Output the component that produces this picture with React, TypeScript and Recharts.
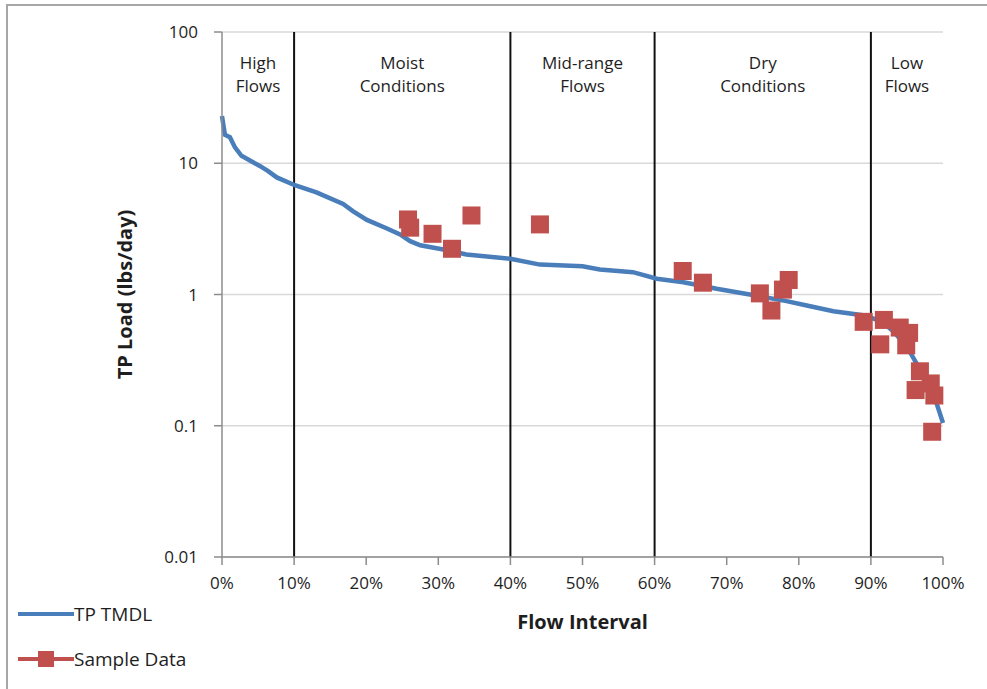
import {
  ComposedChart,
  Line,
  Scatter,
  XAxis,
  YAxis,
  CartesianGrid,
  ReferenceLine,
  ReferenceArea,
  Legend,
} from "recharts";

const FONT = '"Open Sans", "Noto Sans", sans-serif';
const TEXT = "#1e1e1e";
const BLUE = "#4A7EBB";
const RED = "#C0504D";

// load duration curve: flow exceedance (%) vs allowable load
const TMDL_PCT = [
  0, 0.4, 1.1, 1.8, 2.7, 4.0, 5.3, 6.4, 7.6, 10.1, 13.1, 16.8, 18.2, 20.1, 22.8, 24.7, 26.1, 27.5,
  30.7, 33.9, 40, 44.1, 50, 52.4, 57, 60.3, 64, 68.6, 73.2, 78.3, 81.1, 84.8, 89.4, 91.7, 93.1, 95,
  96.3, 97.7, 99.1, 100,
];
const TMDL_LOAD = [
  22.9, 16.5, 15.8, 13.2, 11.4, 10.4, 9.5, 8.7, 7.8, 6.8, 6.0, 4.9, 4.3, 3.7, 3.2, 2.87, 2.55, 2.37,
  2.2, 2.02, 1.87, 1.69, 1.64, 1.55, 1.48, 1.32, 1.24, 1.105, 1.0, 0.89, 0.824, 0.746, 0.69, 0.61,
  0.525, 0.4, 0.3, 0.21, 0.149, 0.105,
];

// measured samples
const SAMPLE_PCT = [
  25.8, 26.1, 29.2, 31.9, 34.6, 44.1, 63.9, 66.7, 74.6, 76.2, 77.8, 78.6, 89.0, 91.8, 91.3, 94.0,
  95.3, 94.9, 96.8, 98.3, 96.2, 98.8, 98.5,
];
const SAMPLE_LOAD = [
  3.73, 3.23, 2.9, 2.23, 4.0, 3.42, 1.51, 1.23, 1.02, 0.755, 1.09, 1.29, 0.619, 0.64, 0.417, 0.56,
  0.51, 0.41, 0.26, 0.21, 0.187, 0.17, 0.09,
];

const X_TICKS = [0, 10, 20, 30, 40, 50, 60, 70, 80, 90, 100];
const Y_TICKS = [0.01, 0.1, 1, 10, 100];
const ZONE_BREAKS = [10, 40, 60, 90];
const ZONE_STARTS = [0, 10, 40, 60, 90];
const ZONE_ENDS = [10, 40, 60, 90, 100];
const ZONE_NAMES = [
  ["High", "Flows"],
  ["Moist", "Conditions"],
  ["Mid-range", "Flows"],
  ["Dry", "Conditions"],
  ["Low", "Flows"],
];

const tmdlData = TMDL_PCT.map((pct, i) => ({ pct, load: TMDL_LOAD[i] }));
const sampleData = SAMPLE_PCT.map((pct, i) => ({ pct, load: SAMPLE_LOAD[i] }));

function ZoneLabel({ viewBox, lines }: any) {
  if (!viewBox) return null;
  const cx = viewBox.x + viewBox.width / 2;
  return (
    <text x={cx} y={viewBox.y + 37} textAnchor="middle" fontFamily={FONT} fontSize={17} fill={TEXT}>
      {lines.map((t: string, i: number) => (
        <tspan key={t + i} x={cx} dy={i === 0 ? 0 : 23}>
          {t}
        </tspan>
      ))}
    </text>
  );
}

function SquareDot({ cx, cy }: any) {
  if (cx == null || cy == null) return null;
  return <rect x={cx - 9} y={cy - 9} width={18} height={18} fill={RED} />;
}

function LegendBox() {
  const row = { display: "flex", alignItems: "center", height: 30 } as const;
  const label = { fontFamily: FONT, fontSize: 19, color: TEXT, lineHeight: "30px" } as const;
  return (
    <div style={{ display: "flex", flexDirection: "column", gap: 15 }}>
      <div style={row}>
        <svg width={56} height={20}>
          <line x1={0} x2={56} y1={10} y2={10} stroke={BLUE} strokeWidth={4} />
        </svg>
        <span style={label}>TP TMDL</span>
      </div>
      <div style={row}>
        <svg width={56} height={20}>
          <line x1={0} x2={56} y1={10} y2={10} stroke={RED} strokeWidth={4} />
          <rect x={20} y={2} width={16} height={16} fill={RED} />
        </svg>
        <span style={label}>Sample Data</span>
      </div>
    </div>
  );
}

export default function App() {
  return (
    <div
      style={{
        position: "absolute",
        left: 0,
        top: 0,
        width: 987,
        height: 689,
        background: "#fff",
        overflow: "hidden",
      }}
    >
      <div
        style={{
          position: "absolute",
          left: 6,
          top: 4,
          width: 1000,
          height: 700,
          borderTop: "2px solid #a6a6a6",
          borderLeft: "2px solid #a6a6a6",
        }}
      />
      <ComposedChart
        width={987}
        height={689}
        margin={{ top: 32, right: 44, bottom: 52, left: 122 }}
        style={{ position: "absolute", left: 0, top: 0 }}
      >
        <CartesianGrid vertical={false} stroke="#d9d9d9" strokeWidth={1.5} />
        <XAxis
          type="number"
          dataKey="pct"
          domain={[0, 100]}
          ticks={X_TICKS}
          tickFormatter={(v: number) => `${v}%`}
          height={80}
          tickSize={8}
          tickMargin={12}
          stroke="#8c8c8c"
          strokeWidth={1.5}
          tick={{ fontFamily: FONT, fontSize: 17, fill: TEXT }}
          label={{
            value: "Flow Interval",
            position: "insideBottom",
            offset: 8,
            fontFamily: FONT,
            fontSize: 20,
            fontWeight: 700,
            fill: TEXT,
          }}
        />
        <YAxis
          type="number"
          dataKey="load"
          scale="log"
          domain={[0.01, 100]}
          allowDataOverflow
          ticks={Y_TICKS}
          tickFormatter={(v: number) => String(v)}
          width={100}
          tickSize={8}
          tickMargin={16}
          stroke="#8c8c8c"
          strokeWidth={1.5}
          tick={{ fontFamily: FONT, fontSize: 17, fill: TEXT }}
          label={{
            value: "TP Load (lbs/day)",
            angle: -90,
            position: "insideLeft",
            offset: 0,
            dx: 3,
            style: { textAnchor: "middle" },
            fontFamily: FONT,
            fontSize: 20,
            fontWeight: 700,
            fill: TEXT,
          }}
        />
        {ZONE_NAMES.map((lines, i) => (
          <ReferenceArea
            key={lines.join(" ")}
            x1={ZONE_STARTS[i]}
            x2={ZONE_ENDS[i]}
            y1={0.01}
            y2={100}
            fill="none"
            fillOpacity={0}
            stroke="none"
            label={(props: any) => <ZoneLabel {...props} lines={lines} />}
          />
        ))}
        {ZONE_BREAKS.map((x) => (
          <ReferenceLine key={x} x={x} stroke="#111" strokeWidth={2} />
        ))}
        <Line
          data={tmdlData}
          dataKey="load"
          type="linear"
          stroke={BLUE}
          strokeWidth={4.5}
          dot={false}
          isAnimationActive={false}
          name="TP TMDL"
        />
        <Scatter
          data={sampleData}
          dataKey="load"
          fill={RED}
          shape={SquareDot}
          isAnimationActive={false}
          name="Sample Data"
        />
        <Legend
          layout="vertical"
          align="center"
          verticalAlign="middle"
          wrapperStyle={{ position: "absolute", left: 18, top: 599, width: 220 }}
          content={() => <LegendBox />}
        />
      </ComposedChart>
    </div>
  );
}
